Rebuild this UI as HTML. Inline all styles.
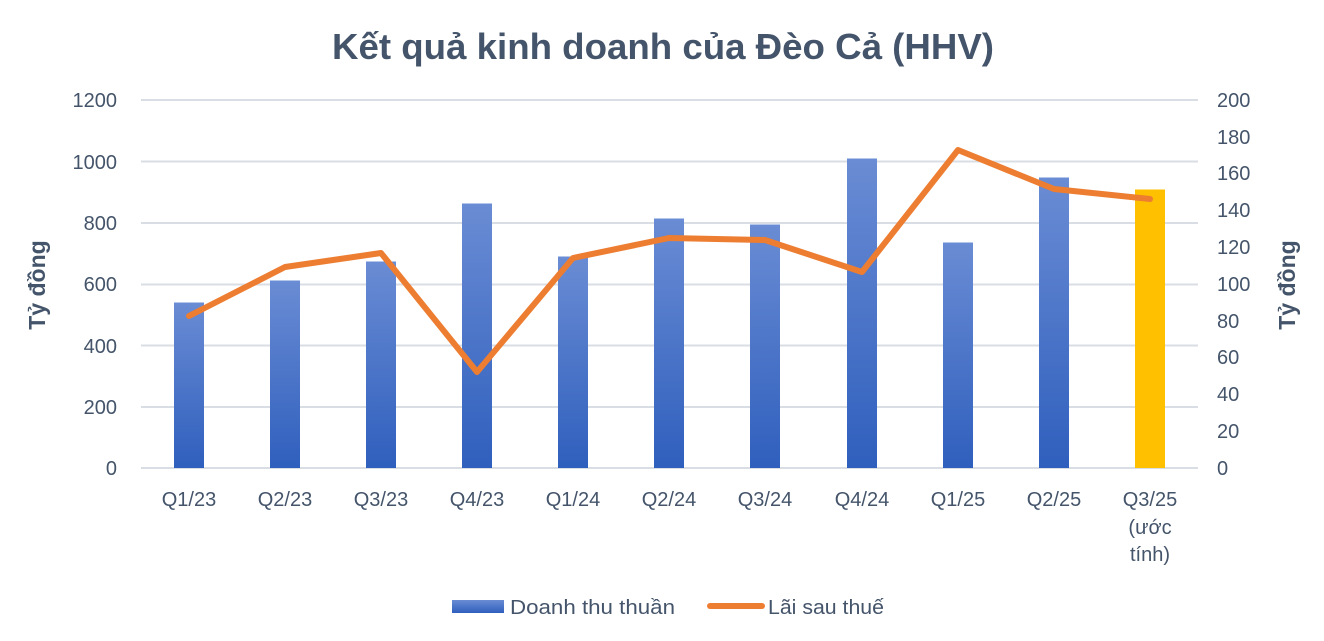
<!DOCTYPE html>
<html><head><meta charset="utf-8"><style>
html,body{margin:0;padding:0;background:#fff;}
svg text{font-family:"Liberation Sans","DejaVu Sans",sans-serif;fill:#44546a;}
</style></head><body>
<svg width="1324" height="636" viewBox="0 0 1324 636" xmlns="http://www.w3.org/2000/svg">
<defs>
<linearGradient id="bg" x1="0" y1="0" x2="0" y2="1">
<stop offset="0" stop-color="#6a8cd4"/><stop offset="1" stop-color="#2f5fbd"/>
</linearGradient>
</defs>
<text x="663" y="59" text-anchor="middle" font-size="36" font-weight="bold" textLength="662" lengthAdjust="spacingAndGlyphs">Kết quả kinh doanh của Đèo Cả (HHV)</text>
<g stroke="#d9dde4" stroke-width="2">
<line x1="141" x2="1198" y1="100" y2="100"/><line x1="141" x2="1198" y1="161.5" y2="161.5"/>
<line x1="141" x2="1198" y1="223" y2="223"/><line x1="141" x2="1198" y1="284.5" y2="284.5"/>
<line x1="141" x2="1198" y1="345.5" y2="345.5"/><line x1="141" x2="1198" y1="407" y2="407"/>
<line x1="141" x2="1198" y1="468" y2="468"/>
</g>
<g font-size="20" text-anchor="end">
<text x="117" y="107">1200</text><text x="117" y="169">1000</text><text x="117" y="230">800</text>
<text x="117" y="291">600</text><text x="117" y="353">400</text><text x="117" y="414">200</text><text x="117" y="475">0</text>
</g>
<g font-size="20" text-anchor="start">
<text x="1217" y="107">200</text><text x="1217" y="144">180</text><text x="1217" y="180">160</text>
<text x="1217" y="217">140</text><text x="1217" y="254">120</text><text x="1217" y="291">100</text>
<text x="1217" y="328">80</text><text x="1217" y="364">60</text><text x="1217" y="401">40</text>
<text x="1217" y="438">20</text><text x="1217" y="475">0</text>
</g>
<text transform="translate(45,285) rotate(-90)" text-anchor="middle" font-size="23" font-weight="bold">Tỷ đồng</text>
<text transform="translate(1295,285) rotate(-90)" text-anchor="middle" font-size="23" font-weight="bold">Tỷ đồng</text>
<g fill="url(#bg)">
<rect x="174" y="302.5" width="30" height="165.5"/>
<rect x="270" y="280.5" width="30" height="187.5"/>
<rect x="366" y="261.5" width="30" height="206.5"/>
<rect x="462" y="203.5" width="30" height="264.5"/>
<rect x="558" y="256.5" width="30" height="211.5"/>
<rect x="654" y="218.5" width="30" height="249.5"/>
<rect x="750" y="224.5" width="30" height="243.5"/>
<rect x="847" y="158.5" width="30" height="309.5"/>
<rect x="943" y="242.5" width="30" height="225.5"/>
<rect x="1039" y="177.5" width="30" height="290.5"/>
</g>
<rect x="1135" y="189.5" width="30" height="278.5" fill="#ffc000"/>
<polyline fill="none" stroke="#ed7d31" stroke-width="6" stroke-linecap="round" stroke-linejoin="round"
points="189,316 285,267 381,253 477,372 573,258 669,238 765,240 862,272 958,150 1054,189 1150,199"/>
<g font-size="20" text-anchor="middle">
<text x="189" y="506">Q1/23</text><text x="285" y="506">Q2/23</text><text x="381" y="506">Q3/23</text>
<text x="477" y="506">Q4/23</text><text x="573" y="506">Q1/24</text><text x="669" y="506">Q2/24</text>
<text x="765" y="506">Q3/24</text><text x="862" y="506">Q4/24</text><text x="958" y="506">Q1/25</text>
<text x="1054" y="506">Q2/25</text><text x="1150" y="506">Q3/25</text>
<text x="1150" y="534">(ước</text><text x="1150" y="561">tính)</text>
</g>
<rect x="452" y="600" width="52" height="13" fill="url(#bg)"/>
<text x="510" y="614" font-size="20" textLength="165" lengthAdjust="spacingAndGlyphs">Doanh thu thuần</text>
<line x1="710" x2="762" y1="606" y2="606" stroke="#ed7d31" stroke-width="6" stroke-linecap="round"/>
<text x="768" y="614" font-size="20" textLength="116" lengthAdjust="spacingAndGlyphs">Lãi sau thuế</text>
</svg>
</body></html>
